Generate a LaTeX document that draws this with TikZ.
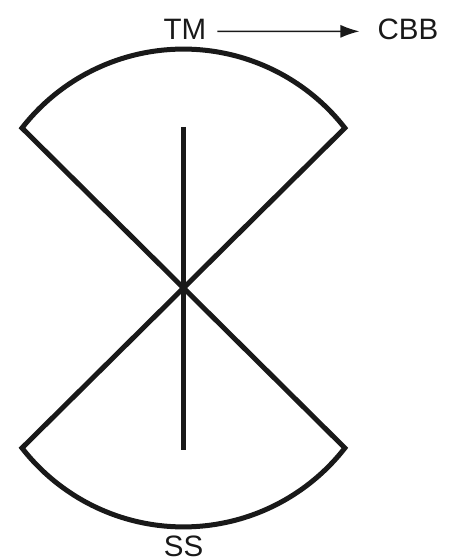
\documentclass[tikz,border=0pt]{standalone}
\usepackage{fontspec}
\setmainfont{Liberation Sans}
\usetikzlibrary{arrows.meta}
\begin{document}
\begin{tikzpicture}[x=1pt,y=1pt,
  thick line/.style={line width=5pt, draw=black!90, line join=miter},
  label text/.style={font=\fontsize{29.5}{30}\selectfont, text=black!90, inner sep=0pt, anchor=base},
  arrowline/.style={line width=1.5pt, draw=black!90, -{Latex[length=19pt,width=13pt]}}]
\useasboundingbox (0,0) rectangle (452,560);
\coordinate (C) at (183.5,272);
\coordinate (TL) at (22,432);
\coordinate (TR) at (345,432);
\coordinate (BL) at (22,112);
\coordinate (BR) at (345,112);
\coordinate (VT) at (183.5,433);
\coordinate (VB) at (183.5,110);
% wedges
\draw[thick line] (C) -- (TL) arc[start angle=142.1, end angle=37.9, radius=204.6] -- cycle;
\draw[thick line] (C) -- (BL) arc[start angle=-142.1, end angle=-37.9, radius=204.6] -- cycle;
% vertical bar
\draw[line width=4.6pt, draw=black!90] (VT) -- (VB);
% labels
\node[label text] (TM) at (185,520) {TM};
\node[label text] (CBB) at (408,520) {CBB};
\node[label text] (SS) at (183.5,4) {SS};
\draw[arrowline] ([xshift=11pt,yshift=-1.5pt]TM.east) -- ([xshift=-18pt,yshift=-1.5pt]CBB.west);
\end{tikzpicture}
\end{document}
